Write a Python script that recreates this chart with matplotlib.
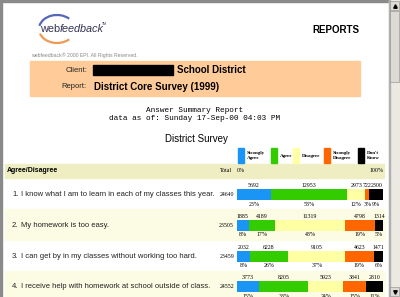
"""
Answer summary report screenshot: district survey agree/disagree bars
"""
import numpy as np
import matplotlib.pyplot as plt
from matplotlib.patches import Rectangle, Arc

# Survey data
questions = [
    "I know what I am to learn in each of my classes this year.",
    "My homework is too easy.",
    "I can get by in my classes without working too hard.",
    "I receive help with homework at school outside of class.",
]
answers = ["Strongly\nAgree", "Agree", "Disagree", "Strongly\nDisagree", "Don't\nKnow"]
strongly_agree = [5692, 1885, 2032, 3773]
agree = [12953, 4189, 6228, 8205]
disagree = [2973, 11319, 9105, 5923]
strongly_disagree = [722, 4798, 4623, 3841]
dont_know = [2300, 1314, 1471, 2810]
totals = [24640, 23505, 23459, 24552]
percent_labels = [
    ["23%", "53%", "12%", "3%", "9%"],
    ["8%", "17%", "48%", "19%", "5%"],
    ["8%", "26%", "37%", "19%", "6%"],
    ["15%", "33%", "24%", "15%", "11%"],
]
colors = ["#1a94f5", "#33cc00", "#ffffa3", "#ff6600", "#000000"]

SANS = "Liberation Sans"
SERIF = "Liberation Serif"
MONO = "Liberation Mono"


def draw_page(ax):
    ax.set_xlim(0, 400)
    ax.set_ylim(297, 0)
    ax.set_axis_off()

    # window frame
    ax.add_patch(Rectangle((0, 0), 400, 1.5, color="#8a8a8a"))
    ax.add_patch(Rectangle((0, 0), 1.5, 297, color="#8a8a8a"))

    # logo
    ax.add_patch(Arc((57, 29), 36, 28, theta1=190, theta2=320, color="#5566bb", lw=1.6))
    ax.add_patch(Arc((57, 29), 36, 28, theta1=40, theta2=165, color="#ee9955", lw=1.6))
    ax.text(40, 29, "web", fontsize=7.8, family=SANS, color="#333355", va="center")
    ax.text(59.5, 29, "feedback", fontsize=7.8, family=SANS, style="italic",
            color="#333355", va="center")
    ax.text(102, 24, "TM", fontsize=2.5, family=SANS, color="#333355", va="center")
    ax.text(31, 55, "webfeedback\u00ae 2000 EPI. All Rights Reserved.", fontsize=3.7,
            family=SANS, color="#888888", va="center")
    ax.text(359, 30, "REPORTS", fontsize=7, family=SANS, weight="bold", ha="right",
            va="center")

    # client box
    ax.add_patch(Rectangle((30, 61), 330, 35, color="#ffcc99"))
    ax.text(87, 70, "Client:", fontsize=5.5, family=SANS, ha="right", va="center",
            color="#222222")
    ax.add_patch(Rectangle((93, 65), 80, 10, color="black"))
    ax.text(177, 70, "School District", fontsize=7, family=SANS, weight="bold",
            va="center")
    ax.text(87, 87, "Report:", fontsize=5.5, family=SANS, ha="right", va="center",
            color="#222222")
    ax.text(94, 87, "District Core Survey (1999)", fontsize=7, family=SANS,
            weight="bold", va="center")

    ax.text(195, 110, "Answer Summary Report", fontsize=5.6, family=MONO,
            ha="center", va="center")
    ax.text(195, 118.5, "data as of: Sunday 17-Sep-00 04:03 PM", fontsize=5.6,
            family=MONO, ha="center", va="center")
    ax.text(196, 139, "District Survey", fontsize=7, family=SANS, ha="center",
            va="center")

    # header band
    ax.add_patch(Rectangle((5, 164), 379, 14, color="#eeeec2"))
    ax.text(7, 171, "Agree/Disagree", fontsize=5, family=SANS, weight="bold",
            va="center")
    ax.text(220, 171, "Total", fontsize=4.2, family=SERIF, va="center")

    # scrollbar
    ax.add_patch(Rectangle((389, 0), 11, 297, color="#ece9e2"))
    ax.add_patch(Rectangle((389, 0), 0.8, 297, color="#b0b0b0"))
    ax.add_patch(Rectangle((390, 1), 9, 9, facecolor="#dcdad2", edgecolor="#999999", lw=0.5))
    ax.add_patch(Rectangle((390, 11), 9, 71, facecolor="#dcdad2", edgecolor="#999999", lw=0.5))
    ax.add_patch(Rectangle((390, 287), 9, 9, facecolor="#dcdad2", edgecolor="#999999", lw=0.5))
    ax.plot([394.5], [5.5], marker="^", ms=2.5, color="black")
    ax.plot([394.5], [291.5], marker="v", ms=2.5, color="black")


def draw_rows(ax, rows_y, row_gap):
    for i, (question, y) in enumerate(zip(questions, rows_y)):
        if i % 2 == 1:
            ax.add_patch(Rectangle((5, y - row_gap / 2 - 1), 379, row_gap,
                                   color="#fcfce4", zorder=0))
        ax.text(12, y, f"{i + 1}.", fontsize=5.5, family=SANS, va="center",
                color="#222222")
        ax.text(21, y, question, fontsize=5.5, family=SANS, va="center",
                color="#222222")


def draw_bars(bar_ax, rows_y):
    counts = np.array([strongly_agree, agree, disagree, strongly_disagree, dont_know]).T
    shares = counts / counts.sum(axis=1, keepdims=True)
    lefts = np.cumsum(shares, axis=1) - shares
    bar_h = 11
    for j in range(len(answers)):
        bar_ax.barh(rows_y, shares[:, j], left=lefts[:, j], height=bar_h,
                    color=colors[j], edgecolor="none")
    for i, y in enumerate(rows_y):
        bar_ax.text(-0.02, y, str(totals[i]), fontsize=4.2, family=SERIF,
                    ha="right", va="center")
        for j in range(len(answers)):
            mid = lefts[i, j] + shares[i, j] / 2
            bar_ax.text(mid, y - bar_h / 2 - 3.5, str(counts[i, j]), fontsize=4.2,
                        family=SERIF, ha="center", va="center")
            bar_ax.text(mid, y + bar_h / 2 + 4, percent_labels[i][j], fontsize=4.2,
                        family=SERIF, ha="center", va="center")

    # legend
    legend_x = [0.007, 0.233, 0.384, 0.596, 0.829]
    for x, label, c in zip(legend_x, answers, colors):
        bar_ax.add_patch(Rectangle((x, 148), 0.042, 15, color=c))
        bar_ax.text(x + 0.06, 155.5, label, fontsize=3.6, family=SERIF,
                    weight="bold", va="center", linespacing=1.1)
    bar_ax.text(0.0, 171, "0%", fontsize=4.2, family=SERIF, va="center")
    bar_ax.text(1.0, 171, "100%", fontsize=4.2, family=SERIF, va="center", ha="right")


def main():
    fig = plt.figure(figsize=(4, 2.97), dpi=100)
    ax = fig.add_axes([0, 0, 1, 1])
    draw_page(ax)

    row_gap = 30.8
    rows_y = 194.5 + row_gap * np.arange(len(questions))
    draw_rows(ax, rows_y, row_gap)

    bar_ax = fig.add_axes([237 / 400, 0, 146 / 400, 1])
    bar_ax.set_xlim(0, 1)
    bar_ax.set_ylim(297, 0)
    bar_ax.set_axis_off()
    draw_bars(bar_ax, rows_y)

    fig.savefig("out.png", dpi=100)


if __name__ == "__main__":
    main()
